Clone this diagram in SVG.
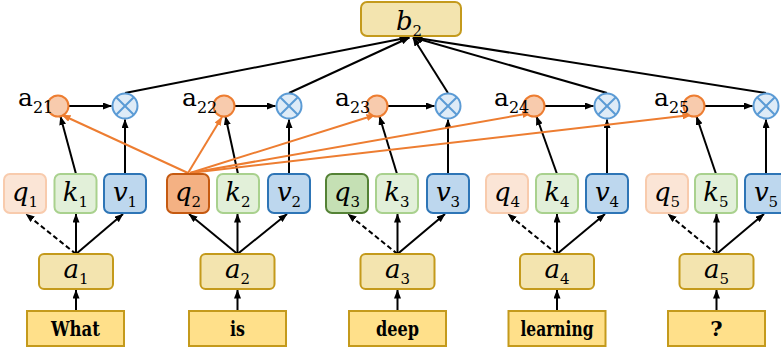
<svg xmlns="http://www.w3.org/2000/svg" width="781" height="354" viewBox="0 0 781 354">
<defs>
<marker id="ab" markerUnits="userSpaceOnUse" markerWidth="9" markerHeight="7" refX="8.5" refY="3.5" orient="auto"><path d="M0,0 L9,3.5 L0,7 z" fill="#000"/></marker>
<marker id="ao" markerUnits="userSpaceOnUse" markerWidth="9" markerHeight="7" refX="8.5" refY="3.5" orient="auto"><path d="M0,0 L9,3.5 L0,7 z" fill="#ED7D31"/></marker>
</defs>
<style>
.word{fill:#FFE08A;stroke:#C49A1C;stroke-width:2}
.emb{fill:#F3E4AF;stroke:#C49A1C;stroke-width:2}
.q{fill:#FBE5D6;stroke:#F8CBAD;stroke-width:2}
.qh{fill:#F4B183;stroke:#C55A11;stroke-width:2}
.qg{fill:#C5E0B4;stroke:#548235;stroke-width:2}
.k{fill:#E2F0D9;stroke:#A9D18E;stroke-width:2}
.v{fill:#BDD7EE;stroke:#2E75B6;stroke-width:2}
.sc{fill:#F8CBAD;stroke:#ED7D31;stroke-width:2}
.ot{fill:#DEEBF7;stroke:#5B9BD5;stroke-width:2}
.otx{stroke:#5B9BD5;stroke-width:2}
.bl{stroke:#000;stroke-width:2;fill:none;marker-end:url(#ab)}
.ds{stroke-dasharray:5,3}
.or{stroke:#ED7D31;stroke-width:2;fill:none;marker-end:url(#ao)}
</style>

<g id="connectors">
<line class="bl" x1="76" y1="311" x2="76" y2="290"/>
<line class="bl" x1="237.5" y1="311" x2="237.5" y2="290"/>
<line class="bl" x1="397.5" y1="311" x2="397.5" y2="290"/>
<line class="bl" x1="557" y1="311" x2="557" y2="290"/>
<line class="bl" x1="716.5" y1="311" x2="716.5" y2="290"/>
<line class="bl ds" x1="76" y1="254" x2="26" y2="214"/>
<line class="bl" x1="76" y1="254" x2="76" y2="214"/>
<line class="bl" x1="76" y1="254" x2="123" y2="214"/>
<line class="bl" x1="237.5" y1="254" x2="189" y2="214"/>
<line class="bl" x1="237.5" y1="254" x2="237.5" y2="214"/>
<line class="bl" x1="237.5" y1="254" x2="287" y2="214"/>
<line class="bl ds" x1="397.5" y1="254" x2="348" y2="214"/>
<line class="bl" x1="397.5" y1="254" x2="397.5" y2="214"/>
<line class="bl" x1="397.5" y1="254" x2="445" y2="214"/>
<line class="bl ds" x1="557" y1="254" x2="508" y2="214"/>
<line class="bl" x1="557" y1="254" x2="557" y2="214"/>
<line class="bl" x1="557" y1="254" x2="605" y2="214"/>
<line class="bl ds" x1="716.5" y1="254" x2="668" y2="214"/>
<line class="bl" x1="716.5" y1="254" x2="716.5" y2="214"/>
<line class="bl" x1="716.5" y1="254" x2="764" y2="214"/>
<line class="bl" x1="76" y1="174" x2="60.5" y2="116.5"/>
<line class="bl" x1="238" y1="174" x2="225.5" y2="116.5"/>
<line class="bl" x1="397" y1="174" x2="379.5" y2="116.5"/>
<line class="bl" x1="557" y1="174" x2="536.5" y2="116.5"/>
<line class="bl" x1="716" y1="174" x2="696.5" y2="116.5"/>
<line class="bl" x1="125" y1="174" x2="125" y2="119.5"/>
<line class="bl" x1="289" y1="174" x2="289" y2="119.5"/>
<line class="bl" x1="448" y1="174" x2="448" y2="119.5"/>
<line class="bl" x1="607" y1="174" x2="607" y2="119.5"/>
<line class="bl" x1="766" y1="174" x2="766" y2="119.5"/>
<line class="bl" x1="68.5" y1="106" x2="111.5" y2="106"/>
<line class="bl" x1="234.5" y1="106" x2="275.5" y2="106"/>
<line class="bl" x1="387.5" y1="106" x2="434.5" y2="106"/>
<line class="bl" x1="544.5" y1="106" x2="593.5" y2="106"/>
<line class="bl" x1="704.5" y1="106" x2="752.5" y2="106"/>
<line class="bl" x1="125" y1="93" x2="408" y2="37.5"/>
<line class="bl" x1="289" y1="93" x2="409.5" y2="37.5"/>
<line class="bl" x1="448" y1="93" x2="413" y2="37.5"/>
<line class="bl" x1="607" y1="93" x2="413.5" y2="37.5"/>
<line class="bl" x1="766" y1="93" x2="414" y2="37.5"/>
<line class="or" x1="188" y1="173" x2="62" y2="115"/>
<line class="or" x1="188" y1="173" x2="222" y2="117"/>
<line class="or" x1="190" y1="173" x2="375" y2="115"/>
<line class="or" x1="190" y1="173" x2="531" y2="113"/>
<line class="or" x1="190" y1="173" x2="691" y2="115"/>
</g>

<g id="b2"><rect class="emb" x="361" y="2" width="100" height="34" rx="6"/><text font-family="DejaVu Serif, serif" font-style="italic" font-size="26" text-anchor="middle" fill="#000" x="409" y="30">b<tspan font-style="normal" font-size="15" dy="6">2</tspan></text></g>

<g font-family="DejaVu Serif, serif" font-weight="bold" font-size="21" text-anchor="middle" fill="#000">
<g id="w1"><rect class="word" x="27" y="311" width="97" height="35"/><text x="75.5" y="336" textLength="49" lengthAdjust="spacingAndGlyphs">What</text></g>
<g id="w2"><rect class="word" x="189" y="311" width="97" height="35"/><text x="237.5" y="336" textLength="15" lengthAdjust="spacingAndGlyphs">is</text></g>
<g id="w3"><rect class="word" x="349" y="311" width="97" height="35"/><text x="397.5" y="336" textLength="43" lengthAdjust="spacingAndGlyphs">deep</text></g>
<g id="w4"><rect class="word" x="508.5" y="311" width="97" height="35"/><text x="557" y="336" textLength="73" lengthAdjust="spacingAndGlyphs">learning</text></g>
<g id="w5"><rect class="word" x="668" y="311" width="97" height="35"/><text x="716.5" y="336">?</text></g>
</g>

<g font-family="DejaVu Serif, serif" font-style="italic" font-size="26" text-anchor="middle" fill="#000">
<g id="a1"><rect class="emb" x="39" y="254" width="74" height="35" rx="5"/><text x="76" y="278">a<tspan font-style="normal" font-size="15" dy="6">1</tspan></text></g>
<g id="a2"><rect class="emb" x="200.5" y="254" width="74" height="35" rx="5"/><text x="237.5" y="278">a<tspan font-style="normal" font-size="15" dy="6">2</tspan></text></g>
<g id="a3"><rect class="emb" x="360.5" y="254" width="74" height="35" rx="5"/><text x="397.5" y="278">a<tspan font-style="normal" font-size="15" dy="6">3</tspan></text></g>
<g id="a4"><rect class="emb" x="520" y="254" width="74" height="35" rx="5"/><text x="557" y="278">a<tspan font-style="normal" font-size="15" dy="6">4</tspan></text></g>
<g id="a5"><rect class="emb" x="679.5" y="254" width="74" height="35" rx="5"/><text x="716.5" y="278">a<tspan font-style="normal" font-size="15" dy="6">5</tspan></text></g>

<g id="q1"><rect class="q" x="4" y="174" width="42" height="39" rx="6"/><text x="25" y="201">q<tspan font-style="normal" font-size="15" dy="6">1</tspan></text></g>
<g id="k1"><rect class="k" x="54.5" y="174" width="42" height="39" rx="6"/><text x="75.5" y="201">k<tspan font-style="normal" font-size="15" dy="6">1</tspan></text></g>
<g id="v1"><rect class="v" x="104" y="174" width="42" height="39" rx="6"/><text x="125" y="201">v<tspan font-style="normal" font-size="15" dy="6">1</tspan></text></g>
<g id="q2"><rect class="qh" x="167" y="174" width="42" height="39" rx="6"/><text x="188" y="201">q<tspan font-style="normal" font-size="15" dy="6">2</tspan></text></g>
<g id="k2"><rect class="k" x="217" y="174" width="42" height="39" rx="6"/><text x="238" y="201">k<tspan font-style="normal" font-size="15" dy="6">2</tspan></text></g>
<g id="v2"><rect class="v" x="268" y="174" width="42" height="39" rx="6"/><text x="289" y="201">v<tspan font-style="normal" font-size="15" dy="6">2</tspan></text></g>
<g id="q3"><rect class="qg" x="326" y="174" width="42" height="39" rx="6"/><text x="347" y="201">q<tspan font-style="normal" font-size="15" dy="6">3</tspan></text></g>
<g id="k3"><rect class="k" x="376" y="174" width="42" height="39" rx="6"/><text x="397" y="201">k<tspan font-style="normal" font-size="15" dy="6">3</tspan></text></g>
<g id="v3"><rect class="v" x="427" y="174" width="42" height="39" rx="6"/><text x="448" y="201">v<tspan font-style="normal" font-size="15" dy="6">3</tspan></text></g>
<g id="q4"><rect class="q" x="486" y="174" width="42" height="39" rx="6"/><text x="507" y="201">q<tspan font-style="normal" font-size="15" dy="6">4</tspan></text></g>
<g id="k4"><rect class="k" x="536" y="174" width="42" height="39" rx="6"/><text x="557" y="201">k<tspan font-style="normal" font-size="15" dy="6">4</tspan></text></g>
<g id="v4"><rect class="v" x="586" y="174" width="42" height="39" rx="6"/><text x="607" y="201">v<tspan font-style="normal" font-size="15" dy="6">4</tspan></text></g>
<g id="q5"><rect class="q" x="646" y="174" width="42" height="39" rx="6"/><text x="667" y="201">q<tspan font-style="normal" font-size="15" dy="6">5</tspan></text></g>
<g id="k5"><rect class="k" x="695" y="174" width="42" height="39" rx="6"/><text x="716" y="201">k<tspan font-style="normal" font-size="15" dy="6">5</tspan></text></g>
<g id="v5"><rect class="v" x="745" y="174" width="42" height="39" rx="6"/><text x="766" y="201">v<tspan font-style="normal" font-size="15" dy="6">5</tspan></text></g>
</g>

<g font-family="DejaVu Serif, serif" font-size="25" fill="#000">
<g id="s21"><circle class="sc" cx="58" cy="106" r="10.5"/><text x="18" y="106">a<tspan font-size="16" dy="7">21</tspan></text></g>
<g id="s22"><circle class="sc" cx="224" cy="106" r="10.5"/><text x="182" y="106">a<tspan font-size="16" dy="7">22</tspan></text></g>
<g id="s23"><circle class="sc" cx="377" cy="106" r="10.5"/><text x="335" y="106">a<tspan font-size="16" dy="7">23</tspan></text></g>
<g id="s24"><circle class="sc" cx="534" cy="106" r="10.5"/><text x="494" y="106">a<tspan font-size="16" dy="7">24</tspan></text></g>
<g id="s25"><circle class="sc" cx="694" cy="106" r="10.5"/><text x="654" y="106">a<tspan font-size="16" dy="7">25</tspan></text></g>
</g>

<g id="m1"><circle class="ot" cx="125" cy="106" r="12.5"/><path class="otx" d="M116.2,97.2 L133.8,114.8 M133.8,97.2 L116.2,114.8"/></g>
<g id="m2"><circle class="ot" cx="289" cy="106" r="12.5"/><path class="otx" d="M280.2,97.2 L297.8,114.8 M297.8,97.2 L280.2,114.8"/></g>
<g id="m3"><circle class="ot" cx="448" cy="106" r="12.5"/><path class="otx" d="M439.2,97.2 L456.8,114.8 M456.8,97.2 L439.2,114.8"/></g>
<g id="m4"><circle class="ot" cx="607" cy="106" r="12.5"/><path class="otx" d="M598.2,97.2 L615.8,114.8 M615.8,97.2 L598.2,114.8"/></g>
<g id="m5"><circle class="ot" cx="766" cy="106" r="12.5"/><path class="otx" d="M757.2,97.2 L774.8,114.8 M774.8,97.2 L757.2,114.8"/></g>
</svg>
